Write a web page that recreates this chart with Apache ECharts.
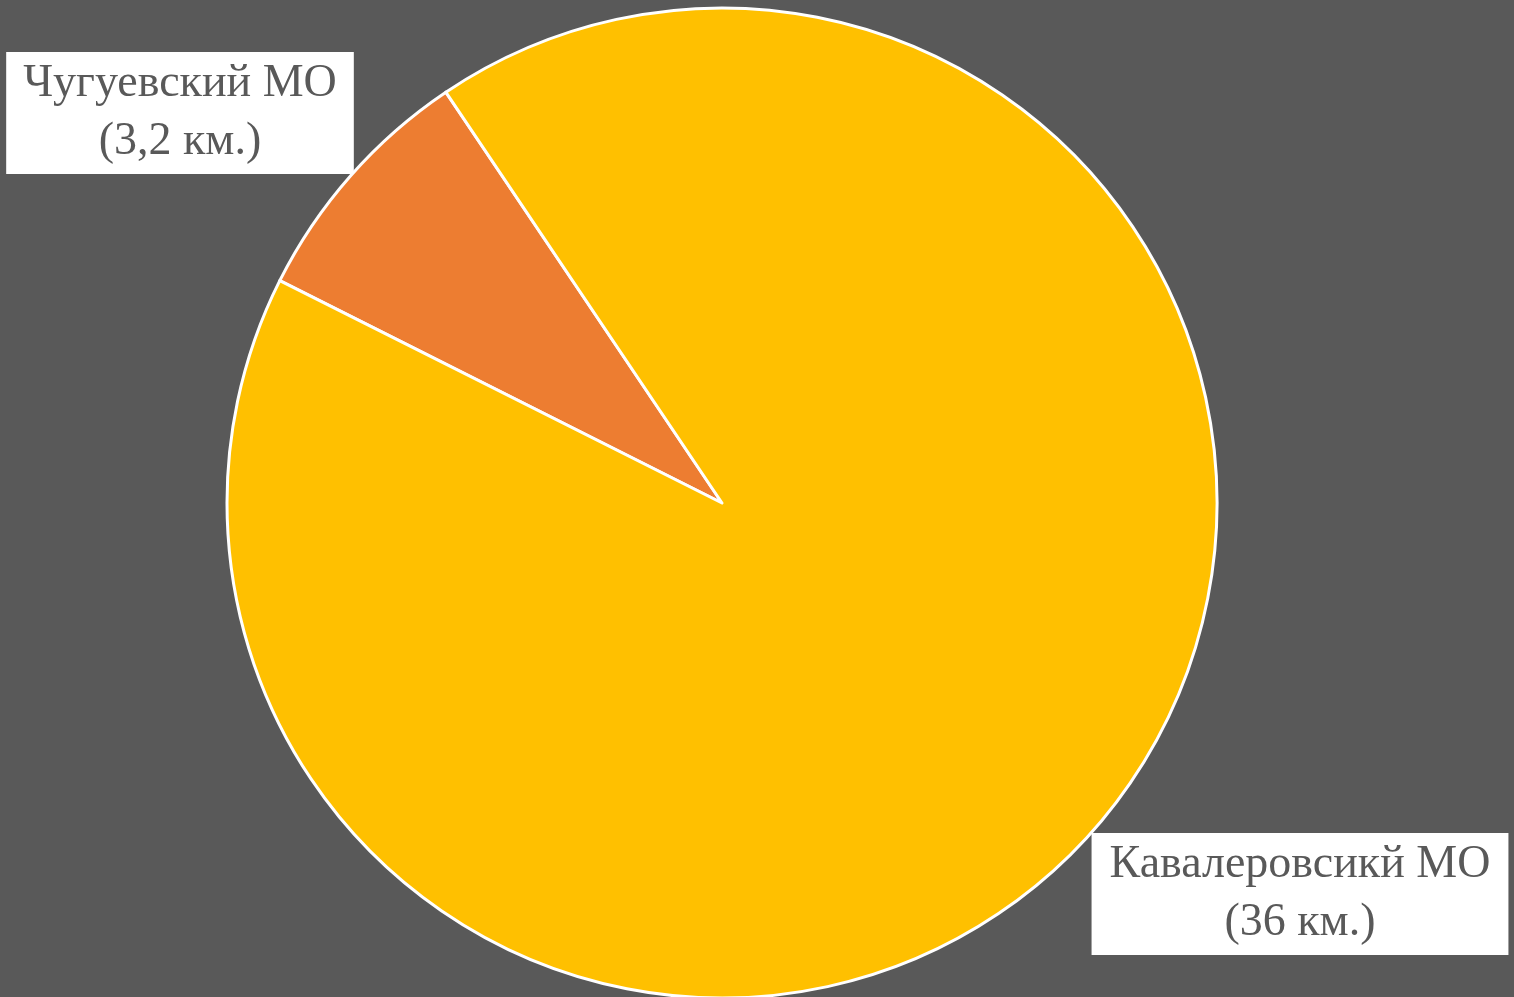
<!DOCTYPE html>
<html>
<head>
<meta charset="utf-8">
<script src="https://cdn.jsdelivr.net/npm/echarts@6/dist/echarts.min.js"></script>
<style>
  html, body { margin: 0; padding: 0; background: #595959; }
  #chart { width: 1514px; height: 997px; }
</style>
</head>
<body>
<div id="chart"></div>
<script>
const districts = ["Чугуевский МО", "Кавалеровсикй МО"];
const lengthsKm = [3.2, 36];
const lengthLabels = ["3,2", "36"];
const sliceColors = ["#ED7D31", "#FFC000"];

// where each label box sits (centre of box) and its side padding
const labelSpots = [
  { x: 180, y: 113, pad: 17 },
  { x: 1300, y: 894, pad: 18 }
];

const chart = echarts.init(document.getElementById("chart"));

chart.setOption({
  backgroundColor: "#595959",
  animation: false,
  series: [
    {
      type: "pie",
      center: [722, 503],
      radius: [0, 495],
      startAngle: 153.3,
      clockwise: true,
      data: districts.map((name, idx) => ({
        name,
        value: lengthsKm[idx],
        itemStyle: { color: sliceColors[idx] },
        label: { padding: [6, labelSpots[idx].pad, 0, labelSpots[idx].pad] }
      })),
      itemStyle: { borderColor: "#ffffff", borderWidth: 3 },
      label: {
        show: true,
        position: "inside",
        formatter: (params) => `${params.name}\n(${lengthLabels[params.dataIndex]} км.)`,
        fontFamily: "'Liberation Serif', serif",
        fontSize: 46,
        lineHeight: 58,
        color: "#595959",
        align: "center",
        overflow: "none",
        backgroundColor: "#ffffff"
      },
      labelLine: { show: false },
      labelLayout: (params) => ({
        x: labelSpots[params.dataIndex].x,
        y: labelSpots[params.dataIndex].y,
        align: "center",
        verticalAlign: "middle"
      }),
      emphasis: { disabled: true }
    }
  ]
});
</script>
</body>
</html>
